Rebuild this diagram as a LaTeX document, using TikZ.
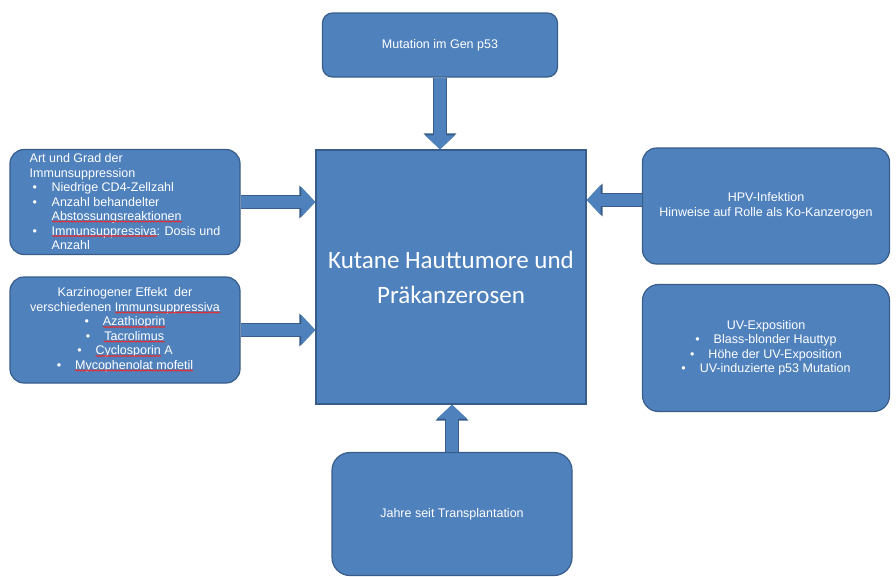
\documentclass[tikz,border=0pt]{standalone}
\usepackage{fontspec}
\setmainfont{Liberation Sans}
\newfontfamily\calibri{Carlito}
\usetikzlibrary{arrows.meta,decorations.pathmorphing}
\definecolor{blau}{HTML}{4F81BD}
\definecolor{rand}{HTML}{385D8A}
\definecolor{fehler}{HTML}{D8343C}
\newcommand\bul{\makebox[22pt][l]{\hspace{3pt}\textbullet}}
\newcommand\einr{\hspace*{22pt}}
\newcommand\pkt{\textbullet\hspace{14pt}}
\tikzset{
  kasten/.style={draw=rand, fill=blau, line width=1.2pt, rounded corners=14pt, text=white,
    font=\fontsize{12.5}{14.5}\selectfont, align=center, inner sep=0pt},
  welle/.style={draw=fehler, line width=1.1pt, sharp corners, decorate,
    decoration={snake, amplitude=0.5pt, segment length=3pt}},
  pfeil/.style={preaction={draw=rand, line width=14pt, -{Triangle[width=32pt,length=16pt]}},
    draw=blau, line width=12pt, -{Triangle[width=29pt,length=14pt]}}
}
\begin{document}
\begin{tikzpicture}[x=1pt,y=-1pt]
\useasboundingbox (0,0) rectangle (896,576);
\node[kasten, sharp corners, minimum width=270pt, minimum height=254pt,
  font=\calibri\fontsize{25}{35}\selectfont] (kut) at (451,277) {Kutane Hauttumore und\\Präkanzerosen};
\node[kasten, minimum width=235pt, minimum height=64pt, rounded corners=10pt] (mut) at (440,45) {Mutation im Gen p53};
\node[kasten, minimum width=230pt, minimum height=105pt, align=left] (immun) at (125,202)
  {Art und Grad der\\
   Immunsuppression\\
   \bul Niedrige CD4-Zellzahl\\
   \bul Anzahl behandelter\\
   \einr Abstossungsreaktionen\\
   \bul Immunsuppressiva: Dosis und\\
   \einr Anzahl};
\node[kasten, minimum width=230pt, minimum height=106pt] (karz) at (125,330)
  {Karzinogener Effekt\ \ der\\
   verschiedenen Immunsuppressiva\\
   \pkt Azathioprin\\
   \pkt Tacrolimus\\
   \pkt Cyclosporin A\\
   \pkt Mycophenolat mofetil};
\node[kasten, minimum width=247pt, minimum height=116pt] (hpv) at (766,206)
  {HPV-Infektion\\Hinweise auf Rolle als Ko-Kanzerogen};
\node[kasten, minimum width=247pt, minimum height=127pt, rounded corners=16pt] (uv) at (766,348)
  {UV-Exposition\\
   \pkt Blass-blonder Hauttyp\\
   \pkt Höhe der UV-Exposition\\
   \pkt UV-induzierte p53 Mutation};
\node[kasten, minimum width=240pt, minimum height=123pt, rounded corners=18pt] (jahre) at (452,514)
  {Jahre seit Transplantation};
\draw[welle] (52.3,221.5) -- (182.2,221.5);
\draw[welle] (52.3,236) -- (157.2,236);
\draw[welle] (115,312.5) -- (220,312.5);
\draw[welle] (103,327) -- (165.4,327);
\draw[welle] (103.6,341.5) -- (164.7,341.5);
\draw[welle] (95.6,356) -- (160.9,356);
\draw[welle] (75.1,370.5) -- (193.2,370.5);
\draw[pfeil] (mut.south) -- (mut.south |- kut.north);
\draw[pfeil] (immun.east) -- (immun.east -| kut.west);
\draw[pfeil] (karz.east) -- (karz.east -| kut.west);
\draw[pfeil] ([yshift=6pt]hpv.west) -- ([yshift=6pt]hpv.west -| kut.east);
\draw[pfeil] (jahre.north) -- (jahre.north |- kut.south);
\end{tikzpicture}
\end{document}
